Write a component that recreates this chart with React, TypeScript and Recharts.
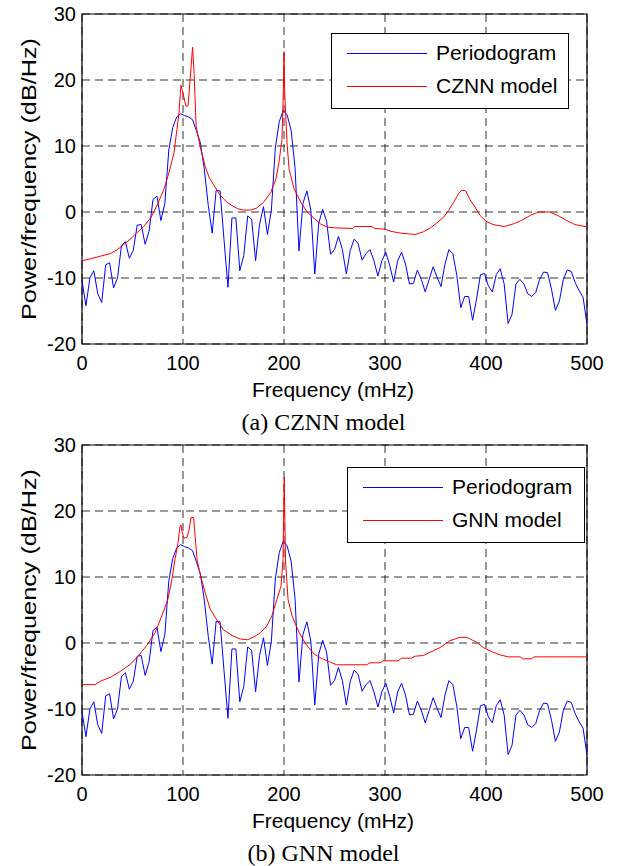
import React from 'react';
import { LineChart, Line, XAxis, YAxis, CartesianGrid, ReferenceArea, Legend } from 'recharts';

const freqTicks = [0, 100, 200, 300, 400, 500];
const powerTicks = [-20, -10, 0, 10, 20, 30];

// periodogram, 129 bins from 0 to 500 mHz (same in both panels)
const periodogram = [
  -10.4, -14.2, -10.0, -8.9, -12.4, -13.7, -8.0, -7.7, -11.5, -10.0,
  -5.1, -4.5, -7.0, -5.8, -2.0, -1.9, -4.9, -2.9, 1.9, 2.4,
  -1.3, 1.3, 9.4, 12.8, 14.4, 14.9, 14.6, 14.4, 14.0, 12.3,
  10.5, 6.5, 1.0, -3.2, 3.3, 3.2, -4.2, -11.4, -0.9, -0.9,
  -8.9, -6.6, -0.6, -1.1, -7.4, -1.9, 0.8, -3.4, 0.3, 9.7,
  13.7, 15.4, 14.7, 12.4, 6.7, -5.9, 1.3, 3.2, 0.3, -9.4,
  -1.7, 0.4, -1.4, -6.4, -5.7, -3.7, -5.7, -9.4, -5.8, -4.1,
  -4.8, -7.3, -6.3, -5.7, -7.4, -9.7, -7.4, -6.1, -8.1, -10.6,
  -7.4, -6.1, -7.9, -10.9, -10.8, -8.8, -10.2, -12.1, -10.2, -8.3,
  -9.9, -11.3, -7.9, -5.7, -6.3, -9.6, -14.5, -12.8, -12.8, -16.4,
  -13.2, -9.5, -9.3, -11.2, -12.1, -9.5, -8.6, -10.9, -16.9, -15.5,
  -10.9, -10.2, -10.9, -12.4, -12.8, -12.2, -10.2, -9.1, -9.2, -11.7,
  -14.9, -13.5, -10.2, -8.8, -9.0, -10.7, -11.9, -12.9, -17.0,
];

const cznnFreq = [
  0, 8, 18, 28, 34, 41, 48, 54, 61, 68, 74, 81, 86, 91, 94, 96, 98, 99, 101, 103,
  105, 107, 109.5, 111, 113, 117, 122, 126, 130, 137, 144, 154, 160, 167, 173, 180, 187, 192, 195, 198,
  199.3, 200, 200.7, 203, 205, 210, 217, 223, 230, 236, 243, 250, 268, 270, 287, 290, 300, 305, 315, 330,
  338, 345, 351, 358, 363, 368, 373, 376, 380, 384, 389, 394, 400, 407, 418, 427, 435, 444, 452, 458,
  463, 472, 480, 488, 498, 500,
];
const cznnPower = [
  -7.4, -7.1, -6.7, -6.3, -5.8, -5.0, -4.1, -3.2, -2.2, -0.9, 0.9, 3.4, 5.9, 8.9, 12.5, 15.0, 19.2, 18.6, 17.3, 16.0,
  16.1, 20.0, 25.0, 21.0, 13.0, 9.9, 6.9, 5.2, 4.2, 2.5, 1.4, 0.5, 0.3, 0.3, 0.6, 1.5, 3.0, 5.0, 7.5, 11.0,
  18.0, 24.3, 18.0, 10.5, 6.5, 3.5, 1.4, 0.0, -1.0, -1.8, -2.3, -2.4, -2.5, -2.2, -2.2, -2.5, -2.6, -2.9, -3.2, -3.4,
  -3.0, -2.4, -1.7, -0.8, 0.25, 1.5, 2.8, 3.3, 3.2, 1.9, 0.8, -0.5, -1.4, -1.9, -2.2, -1.8, -1.3, -0.5, 0, 0,
  0, -0.6, -1.3, -1.9, -2.2, -2.2,
];

const gnnFreq = [
  0, 13, 18, 28, 38, 48, 56, 64, 72.5, 79, 85, 89, 92, 95, 97, 98, 99, 101, 104, 106,
  108, 110.6, 112, 114, 117, 122, 127, 134, 140, 149, 157, 164, 170, 177, 183, 188, 193, 197, 199, 200.2,
  201.5, 204, 208, 215, 221.5, 230, 238, 246, 252, 282, 285, 295, 298, 313, 316.5, 326, 329.7, 338, 344.6, 354.5,
  364.4, 374, 381, 390.8, 397.4, 407, 414, 422, 434, 437, 445, 447.5, 500,
];
const gnnPower = [
  -6.3, -6.3, -5.8, -5.2, -4.3, -3.2, -1.9, -0.4, 1.6, 4.1, 6.6, 9.6, 12.6, 15.1, 17.6, 17.9, 16.9, 15.9, 16.0, 17.1,
  19.0, 19.0, 16.1, 12.6, 10.4, 7.6, 5.1, 3.4, 2.0, 1.1, 0.6, 0.5, 0.9, 1.6, 2.6, 4.1, 6.6, 8.6, 12.6, 25.1,
  12.6, 6.6, 4.1, 1.6, -0.15, -1.7, -2.4, -2.9, -3.3, -3.3, -3.0, -3.0, -2.7, -2.7, -2.3, -2.3, -2.0, -1.9, -1.4, -0.7,
  0.35, 0.86, 0.86, 0.1, -0.7, -1.4, -1.8, -2.1, -2.1, -2.4, -2.4, -2.1, -2.1,
];

const SANS = '"Liberation Sans", Arial, sans-serif';
const SERIF = '"Liberation Serif", "Times New Roman", serif';

const pgData = periodogram.map((p, i) => ({ f: (i * 500) / 128, p }));
const toRows = (fs: number[], ps: number[]) => fs.map((f, i) => ({ f, p: ps[i] }));
const cznnData = toRows(cznnFreq, cznnPower);
const gnnData = toRows(gnnFreq, gnnPower);

const tickStyle = { fill: '#000', fontSize: 20, fontFamily: SANS };

// recharts sorts legend entries by name, keep plot order instead
const LegendBox = ({ payload }: any) => {
  const items = [...(payload || [])].sort(
    (a: any, b: any) => (a.value === 'Periodogram' ? -1 : 0) - (b.value === 'Periodogram' ? -1 : 0)
  );
  return (
    <div
      style={{
        width: 238,
        height: 76,
        border: '1px solid #000',
        background: '#fff',
        boxSizing: 'border-box',
        position: 'relative',
        fontFamily: SANS,
        fontSize: 21,
        color: '#000',
      }}
    >
      {items.map((item: any, i: number) => (
        <div
          key={item.value}
          style={{ position: 'absolute', left: 0, top: i === 0 ? 7 : 40, height: 24, display: 'flex', alignItems: 'center' }}
        >
          <span style={{ display: 'inline-block', marginLeft: 15, width: 80, height: 1, background: item.color }} />
          <span style={{ marginLeft: 9, lineHeight: '24px', whiteSpace: 'nowrap' }}>{item.value}</span>
        </div>
      ))}
    </div>
  );
};

const renderYLabel = (props: any) => {
  const vb = props.viewBox || {};
  const cy = vb.height ? vb.y + vb.height / 2 : 179;
  return (
    <text
      x={28}
      y={cy}
      transform={`rotate(-90, 28, ${cy})`}
      textAnchor="middle"
      dominantBaseline="central"
      fontSize={21}
      fontFamily={SANS}
      textLength={282}
      lengthAdjust="spacingAndGlyphs"
      fill="#000"
    >
      Power/frequency (dB/Hz)
    </text>
  );
};

const renderXLabel = () => (
  <text x={333} y={389} textAnchor="middle" dominantBaseline="central" fontSize={21} fontFamily={SANS} fill="#000">
    Frequency (mHz)
  </text>
);

interface PanelProps {
  top: number;
  modelName: string;
  modelData: { f: number; p: number }[];
  legendLeft: number;
  legendTop: number;
  caption: string;
}

const Panel = ({ top, modelName, modelData, legendLeft, legendTop, caption }: PanelProps) => (
  <div style={{ position: 'absolute', left: 0, top, width: 617, height: 435 }}>
    <LineChart width={617} height={405} margin={{ top: 14, right: 30, bottom: 0, left: 0 }}>
      <CartesianGrid stroke="#000" strokeDasharray="8 5" strokeOpacity={0.8} />
      <XAxis
        type="number"
        dataKey="f"
        domain={[0, 500]}
        ticks={freqTicks}
        interval={0}
        height={61}
        tickSize={0}
        tickMargin={12}
        axisLine={false}
        tickLine={false}
        tick={tickStyle}
        label={renderXLabel}
      />
      <YAxis
        type="number"
        domain={[-20, 30]}
        ticks={powerTicks}
        interval={0}
        width={82}
        tickSize={0}
        tickMargin={6}
        axisLine={false}
        tickLine={false}
        tick={tickStyle}
        label={renderYLabel}
      />
      <ReferenceArea x1={0} x2={500} y1={-20} y2={30} fill="none" stroke="#000" strokeWidth={1.2} />
      <Line
        data={pgData}
        dataKey="p"
        name="Periodogram"
        type="linear"
        stroke="#0000ff"
        strokeWidth={1}
        dot={false}
        activeDot={false}
        isAnimationActive={false}
      />
      <Line
        data={modelData}
        dataKey="p"
        name={modelName}
        type="linear"
        stroke="#ff0000"
        strokeWidth={1}
        dot={false}
        activeDot={false}
        isAnimationActive={false}
      />
      <Legend
        layout="horizontal"
        verticalAlign="middle"
        align="center"
        content={(props: any) => <LegendBox payload={props.payload} />}
        wrapperStyle={{ left: legendLeft, top: legendTop, width: 238, height: 76 }}
      />
    </LineChart>
    <div
      style={{
        position: 'absolute',
        left: 0,
        width: 647,
        top: 409,
        textAlign: 'center',
        fontFamily: SERIF,
        fontSize: 24,
        lineHeight: '26px',
        color: '#000',
      }}
    >
      {caption}
    </div>
  </div>
);

export default function App() {
  return (
    <div style={{ position: 'absolute', left: 0, top: 0, width: 617, height: 866, background: '#fff' }}>
      <Panel top={0} modelName="CZNN model" modelData={cznnData} legendLeft={331} legendTop={33} caption="(a) CZNN model" />
      <Panel top={431} modelName="GNN model" modelData={gnnData} legendLeft={347} legendTop={36} caption="(b) GNN model" />
    </div>
  );
}
